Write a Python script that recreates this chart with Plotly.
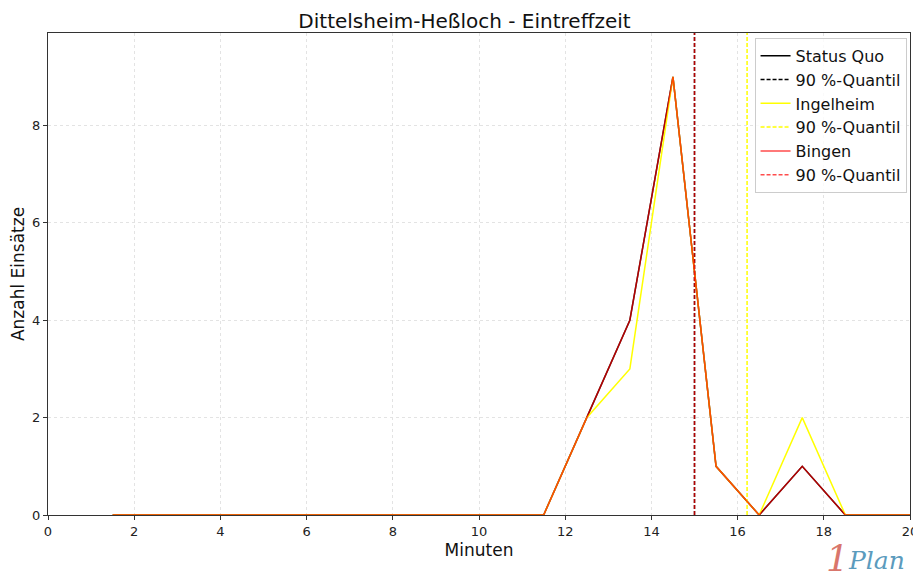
import plotly.graph_objects as go

# minutes (bin centres) and counts per scenario
minutes = [1.5, 2.5, 3.5, 4.5, 5.5, 6.5, 7.5, 8.5, 9.5, 10.5, 11.5,
           12.5, 13.5, 14.5, 15.5, 16.5, 17.5, 18.5, 19.5, 20.5]
status_quo = [0, 0, 0, 0, 0, 0, 0, 0, 0, 0, 0, 2, 4, 9, 1, 0, 1, 0, 0, 0]
ingelheim = [0, 0, 0, 0, 0, 0, 0, 0, 0, 0, 0, 2, 3, 9, 1, 0, 2, 0, 0, 0]
bingen = [0, 0, 0, 0, 0, 0, 0, 0, 0, 0, 0, 2, 4, 9, 1, 0, 1, 0, 0, 0]

# 90 % quantiles
q_status_quo = 15.0
q_ingelheim = 16.22
q_bingen = 15.0

y_top = 9.9

FONT = "DejaVu Sans"

fig = go.Figure()

series = [
    ("Status Quo", status_quo, q_status_quo, "black"),
    ("Ingelheim", ingelheim, q_ingelheim, "rgb(255,255,0)"),
    ("Bingen", bingen, q_bingen, "rgba(255,0,0,0.7)"),
]

for name, vals, q, col in series:
    fig.add_trace(go.Scatter(x=minutes, y=vals, mode="lines", name=name,
                             line=dict(color=col, width=1.5)))
    fig.add_trace(go.Scatter(x=[q, q], y=[0, y_top], mode="lines", name="90 %-Quantil",
                             line=dict(color=col, width=1.5, dash="4px,2px")))

axis_common = dict(
    showline=True, linecolor="#333", linewidth=1, mirror=True,
    ticks="outside", ticklen=4, tickcolor="#333",
    showgrid=True, gridcolor="#e3e3e3", griddash="dot", gridwidth=1,
    zeroline=False, tickfont=dict(size=13, color="#222"), automargin=False,
)

# the page body has an 8px margin, so the figure is 8px smaller than the window
fig.update_layout(
    width=913, height=575,
    paper_bgcolor="white", plot_bgcolor="white",
    font=dict(family=FONT, color="#111"),
    margin=dict(l=40, r=11, t=25, b=68, autoexpand=False),
    title=dict(text="Dittelsheim-Heßloch - Eintreffzeit", x=0.5, xanchor="center",
               y=0.99, yanchor="top", font=dict(size=20)),
    xaxis=dict(range=[0, 20], dtick=2, title=dict(text="Minuten", font=dict(size=17), standoff=6),
               **axis_common),
    yaxis=dict(range=[0, y_top], dtick=2, title=dict(text="Anzahl Einsätze", font=dict(size=17), standoff=8),
               **axis_common),
    legend=dict(x=0.996, y=0.99, xanchor="right", yanchor="top",
                bgcolor="rgba(255,255,255,0.8)", bordercolor="#ccc", borderwidth=1,
                font=dict(size=16), tracegroupgap=0, itemwidth=30),
    showlegend=True,
)

# logo
fig.add_annotation(xref="paper", yref="paper", x=0.932, y=-0.09, xanchor="right", yanchor="middle",
                   text="<i>1</i>", showarrow=False,
                   font=dict(family="DejaVu Serif", size=36, color="#d9766c"))
fig.add_annotation(xref="paper", yref="paper", x=0.926, y=-0.095, xanchor="left", yanchor="middle",
                   text="<i>Plan</i>", showarrow=False,
                   font=dict(family="DejaVu Serif", size=25, color="#5b9bbd"))

fig.write_html("out.html")
